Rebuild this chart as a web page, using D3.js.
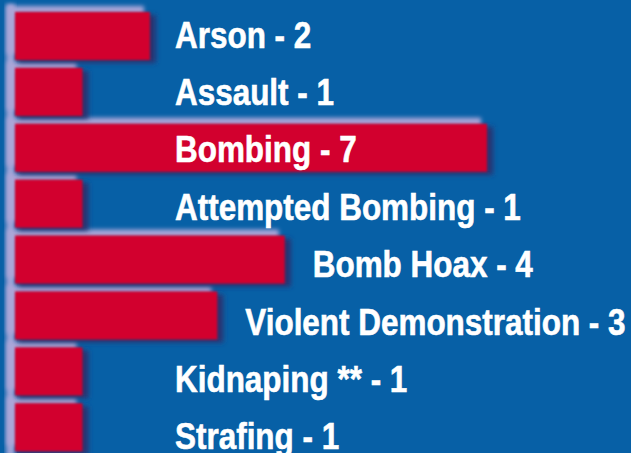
<!DOCTYPE html>
<html>
<head>
<meta charset="utf-8">
<script src="https://cdn.jsdelivr.net/npm/d3@7/dist/d3.min.js"></script>
<style>
html,body{margin:0;padding:0;background:#0a5ea6;}
svg{display:block;}
</style>
</head>
<body>
<script>
const categories = ["Arson","Assault","Bombing","Attempted Bombing","Bomb Hoax","Violent Demonstration","Kidnaping **","Strafing"];
const values = [2,1,7,1,4,3,1,1];

const W = 631, H = 453;
const svg = d3.select("body").append("svg").attr("width", W).attr("height", H);
svg.append("rect").attr("width", W).attr("height", H).attr("fill", "#0760a6");

const defs = svg.append("defs");
const fHi = defs.append("filter").attr("id","hi").attr("x","-20%").attr("y","-50%").attr("width","140%").attr("height","200%");
fHi.append("feGaussianBlur").attr("stdDeviation", 2.2);
const fSh = defs.append("filter").attr("id","sh").attr("x","-20%").attr("y","-50%").attr("width","140%").attr("height","200%");
fSh.append("feGaussianBlur").attr("stdDeviation", 2.5);
const fBar = defs.append("filter").attr("id","bb").attr("x","-5%").attr("y","-10%").attr("width","110%").attr("height","120%");
fBar.append("feGaussianBlur").attr("stdDeviation", 0.9);

const x = d3.scaleLinear().domain([0, 7]).range([15, 487]);
const yBar = d3.scaleBand().domain(categories).range([8, 8 + 8 * 55.9]).paddingInner(0.14).paddingOuter(0.07);
const yTxt = d3.scalePoint().domain(categories).range([34, 34 + 7 * 57.4]);

const data = categories.map((c, i) => ({c, v: values[i]}));

svg.append("rect").attr("x", 6).attr("y", 4).attr("width", 9).attr("height", H)
  .attr("fill", "#9ea4d8").attr("filter","url(#hi)");

const g = svg.append("g");
g.selectAll("rect.hi").data(data).join("rect").attr("class","hi")
  .attr("x", d => x(0) - 8).attr("y", d => yBar(d.c) - 6)
  .attr("width", d => x(d.v) - x(0) + 2).attr("height", yBar.bandwidth())
  .attr("fill", "#aaa6d8").attr("filter","url(#hi)");
g.selectAll("rect.sh").data(data).join("rect").attr("class","sh")
  .attr("x", d => x(0) + 3).attr("y", d => yBar(d.c) + 3)
  .attr("width", d => x(d.v) - x(0) + 3).attr("height", yBar.bandwidth())
  .attr("fill", "#2a3370").attr("filter","url(#sh)");
g.selectAll("rect.bar").data(data).join("rect").attr("class","bar")
  .attr("x", x(0)).attr("y", d => yBar(d.c))
  .attr("width", d => x(d.v) - x(0)).attr("height", yBar.bandwidth())
  .attr("fill", "#d2002d").attr("filter","url(#bb)");

const maxV = d3.max(values);
const labelX0 = 175;
const sx = 0.85;
svg.append("g").selectAll("text").data(data).join("text")
  .attr("transform", d => {
    const off = x(d.v) + 28;
    const lx = (d.v === maxV || off <= 180) ? labelX0 : off;
    return `translate(${lx},${yTxt(d.c) + 13.5}) scale(${sx},1)`;
  })
  .attr("fill", "#ffffff")
  .attr("stroke", "#ffffff")
  .attr("stroke-width", 0.6)
  .attr("font-family", "'Liberation Sans', Arial, sans-serif")
  .attr("font-weight", "bold")
  .attr("font-size", 37)
  .text(d => `${d.c} - ${d.v}`);
</script>
</body>
</html>
